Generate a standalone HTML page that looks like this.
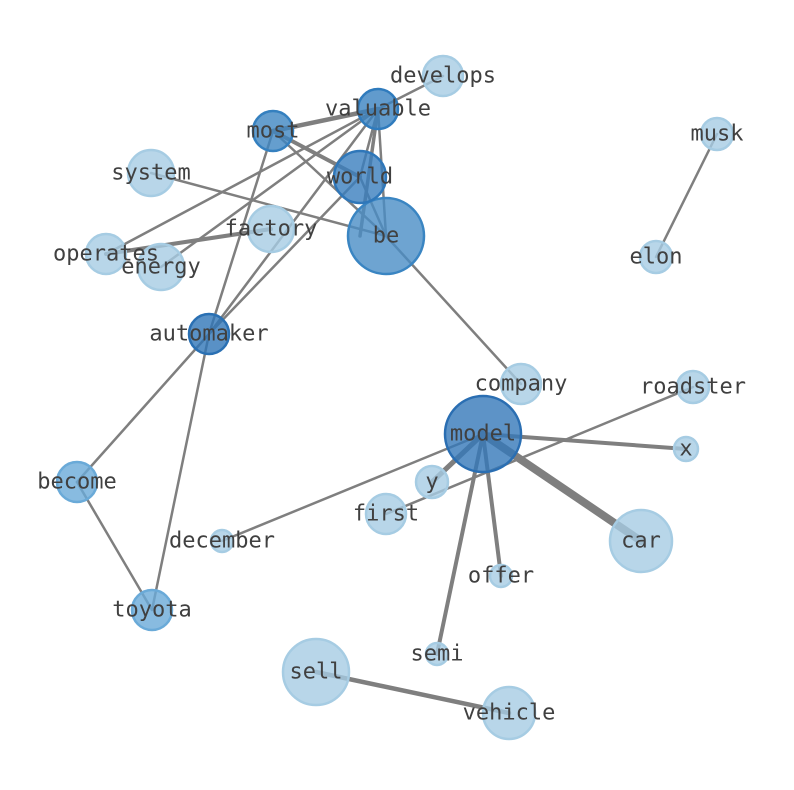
<!DOCTYPE html><html><head><style>body{margin:0;background:#fff}svg{display:block}text{font-family:"DejaVu Sans Mono",monospace;font-size:22px;fill:#404040;text-anchor:middle;dominant-baseline:central}</style></head><body>
<svg width="794" height="790" viewBox="0 0 794 790">
<g stroke="#7f7f7f" stroke-linecap="round" fill="none">
<line x1="273" y1="131" x2="378" y2="109" stroke-width="4.5"/>
<line x1="273" y1="131" x2="360" y2="177" stroke-width="4"/>
<line x1="273" y1="131" x2="386" y2="236" stroke-width="2.5"/>
<line x1="273" y1="131" x2="209" y2="334" stroke-width="2.5"/>
<line x1="443" y1="76" x2="378" y2="109" stroke-width="2.5"/>
<line x1="378" y1="109" x2="360" y2="177" stroke-width="2.5"/>
<line x1="378" y1="109" x2="386" y2="236" stroke-width="2.5"/>
<line x1="378" y1="109" x2="360" y2="236" stroke-width="3.5"/>
<line x1="378" y1="109" x2="209" y2="334" stroke-width="2.5"/>
<line x1="378" y1="109" x2="106" y2="254" stroke-width="2.5"/>
<line x1="378" y1="109" x2="161" y2="267" stroke-width="2.5"/>
<line x1="360" y1="177" x2="386" y2="236" stroke-width="2.5"/>
<line x1="360" y1="177" x2="209" y2="334" stroke-width="2.5"/>
<line x1="151" y1="173" x2="386" y2="236" stroke-width="2.5"/>
<line x1="106" y1="254" x2="271" y2="229" stroke-width="4"/>
<line x1="386" y1="236" x2="521" y2="384" stroke-width="2.5"/>
<line x1="656" y1="257" x2="717" y2="134" stroke-width="2.5"/>
<line x1="209" y1="334" x2="77" y2="482" stroke-width="2.5"/>
<line x1="209" y1="334" x2="152" y2="610" stroke-width="2.5"/>
<line x1="77" y1="482" x2="152" y2="610" stroke-width="2.5"/>
<line x1="483" y1="434" x2="686" y2="449" stroke-width="4"/>
<line x1="483" y1="434" x2="641" y2="541" stroke-width="8"/>
<line x1="483" y1="434" x2="501" y2="576" stroke-width="4"/>
<line x1="483" y1="434" x2="437" y2="654" stroke-width="4"/>
<line x1="483" y1="434" x2="432" y2="482" stroke-width="5"/>
<line x1="483" y1="434" x2="222" y2="541" stroke-width="2.5"/>
<line x1="693" y1="387" x2="386" y2="514" stroke-width="2.5"/>
<line x1="316" y1="672" x2="509" y2="713" stroke-width="4.5"/>
</g>
<g stroke-width="2.5">
<g fill="#a6cce3" stroke="#a6cce3" fill-opacity="0.8">
<circle cx="443" cy="76" r="20"/><circle cx="717" cy="134" r="16"/><circle cx="151" cy="173" r="23"/><circle cx="271" cy="229" r="23"/><circle cx="106" cy="254" r="20"/><circle cx="161" cy="267" r="23"/><circle cx="656" cy="257" r="16"/><circle cx="521" cy="384" r="20"/><circle cx="693" cy="387" r="16"/><circle cx="686" cy="449" r="12"/><circle cx="432" cy="482" r="16"/><circle cx="386" cy="514" r="20"/><circle cx="222" cy="541" r="11"/><circle cx="641" cy="541" r="31"/><circle cx="501" cy="576" r="11"/><circle cx="437" cy="654" r="11"/><circle cx="316" cy="672" r="33"/><circle cx="509" cy="713" r="26"/>
</g>
<g fill-opacity="0.8">
<circle cx="77" cy="482" r="20" fill="#6aaad8" stroke="#6aaad8"/>
<circle cx="152" cy="610" r="20" fill="#6aaad8" stroke="#6aaad8"/>
<circle cx="386" cy="236" r="38" fill="#4a8dc6" stroke="#3a85c2"/>
<circle cx="273" cy="131" r="20" fill="#3f86c2" stroke="#3580bf"/>
<circle cx="378" cy="109" r="20" fill="#3a82c0" stroke="#2f7bbd"/>
<circle cx="360" cy="177" r="26" fill="#3a7ebe" stroke="#2f77b9"/>
<circle cx="209" cy="334" r="20" fill="#2f76b8" stroke="#2a70b3"/>
<circle cx="483" cy="434" r="38" fill="#3478b9" stroke="#2a6eb2"/>
</g></g>
<g>
<text x="443" y="76">develops</text><text x="378" y="109">valuable</text><text x="273" y="131">most</text><text x="717" y="134">musk</text><text x="151" y="173">system</text><text x="360" y="177">world</text><text x="271" y="229">factory</text><text x="386" y="236">be</text><text x="106" y="254">operates</text><text x="161" y="267">energy</text><text x="656" y="257">elon</text><text x="209" y="334">automaker</text><text x="521" y="384">company</text><text x="693" y="387">roadster</text><text x="483" y="434">model</text><text x="686" y="449">x</text><text x="77" y="482">become</text><text x="432" y="482">y</text><text x="386" y="514">first</text><text x="222" y="541">december</text><text x="641" y="541">car</text><text x="501" y="576">offer</text><text x="152" y="610">toyota</text><text x="437" y="654">semi</text><text x="316" y="672">sell</text><text x="509" y="713">vehicle</text>
</g>
</svg></body></html>
